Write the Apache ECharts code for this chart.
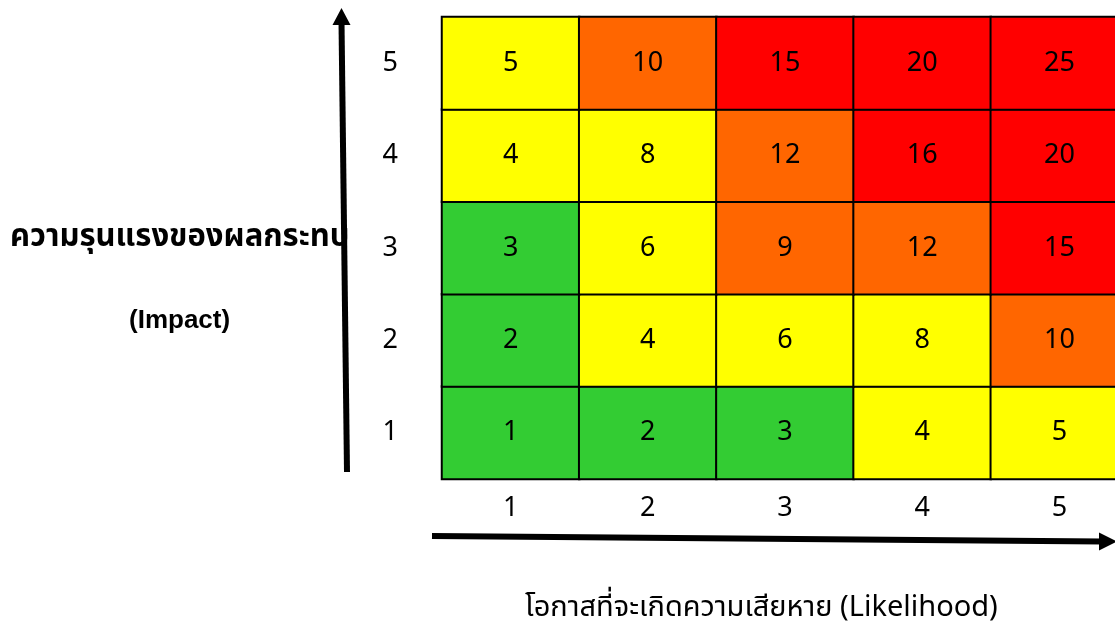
<!DOCTYPE html>
<html><head><meta charset="utf-8">
<script src="https://cdn.jsdelivr.net/npm/echarts@6/dist/echarts.min.js"></script>
<style>html,body{margin:0;padding:0;background:#fff}#c{width:1115px;height:635px}</style>
</head><body><div id="c"></div>
<script>
const likelihood = ['1','2','3','4','5'];
const impact = ['1','2','3','4','5'];
// rows by impact (1..5), values by likelihood (1..5)
const scores = [
  [1, 2, 3, 4, 5],
  [2, 4, 6, 8, 10],
  [3, 6, 9, 12, 15],
  [4, 8, 12, 16, 20],
  [5, 10, 15, 20, 25]
];
const yTitle = 'ความรุนแรงของผลกระทบ';
const yTitle2 = '(Impact)';
const xTitle = 'โอกาสที่จะเกิดความเสียหาย (Likelihood)';

const data = [];
scores.forEach((row, yi) => row.forEach((v, xi) => data.push([xi, yi, v])));

const numFont = '"Noto Sans", sans-serif';
const chart = echarts.init(document.getElementById('c'));
chart.setOption({
  animation: false,
  grid: {left: 442, top: 17, width: 686, height: 462, outerBoundsMode: 'none', containLabel: false},
  xAxis: {type: 'category', data: likelihood,
    axisLine: {show: false}, axisTick: {show: false}, splitLine: {show: false},
    axisLabel: {margin: 16, fontSize: 27, color: '#000', fontFamily: numFont}},
  yAxis: {type: 'category', data: impact,
    axisLine: {show: false}, axisTick: {show: false}, splitLine: {show: false},
    axisLabel: {margin: 44, fontSize: 27, color: '#000', fontFamily: numFont}},
  visualMap: {show: false, type: 'piecewise', dimension: 2,
    pieces: [
      {min: 0, max: 3, color: '#33CC33'},
      {min: 4, max: 8, color: '#FFFF00'},
      {min: 9, max: 12, color: '#FF6600'},
      {min: 13, max: 25, color: '#FF0000'}
    ]},
  series: [{type: 'heatmap', data: data,
    itemStyle: {borderColor: '#000', borderWidth: 2},
    label: {show: true, fontSize: 27, color: '#000', fontFamily: numFont},
    emphasis: {disabled: true}}],
  graphic: [
    {type: 'text', left: 10, top: 222, z: 1,
      style: {text: yTitle, fontSize: 31, fontWeight: 'bold', fill: '#000', fontFamily: '"Noto Sans", "Noto Sans Thai", sans-serif'}},
    {type: 'text', left: 129, top: 308, z: 1,
      style: {text: yTitle2, fontSize: 26, fontWeight: 'bold', fill: '#000', fontFamily: '"Liberation Sans", Arial, sans-serif'}},
    {type: 'text', left: 525, top: 593, z: 1,
      style: {text: xTitle, fontSize: 29, fill: '#000', fontFamily: '"Noto Sans", "Noto Sans Thai", sans-serif'}},
    {type: 'line', z: 10, shape: {x1: 347, y1: 472, x2: 341.5, y2: 22}, style: {stroke: '#000', lineWidth: 6}},
    {type: 'polygon', z: 10, shape: {points: [[341.5, 8], [332.5, 25], [350.5, 25]]}, style: {fill: '#000'}},
    {type: 'line', z: 10, shape: {x1: 432, y1: 536, x2: 1102, y2: 541.5}, style: {stroke: '#000', lineWidth: 6}},
    {type: 'polygon', z: 10, shape: {points: [[1117, 541.5], [1099, 532.5], [1099, 550.5]]}, style: {fill: '#000'}}
  ]
});
</script></body></html>
